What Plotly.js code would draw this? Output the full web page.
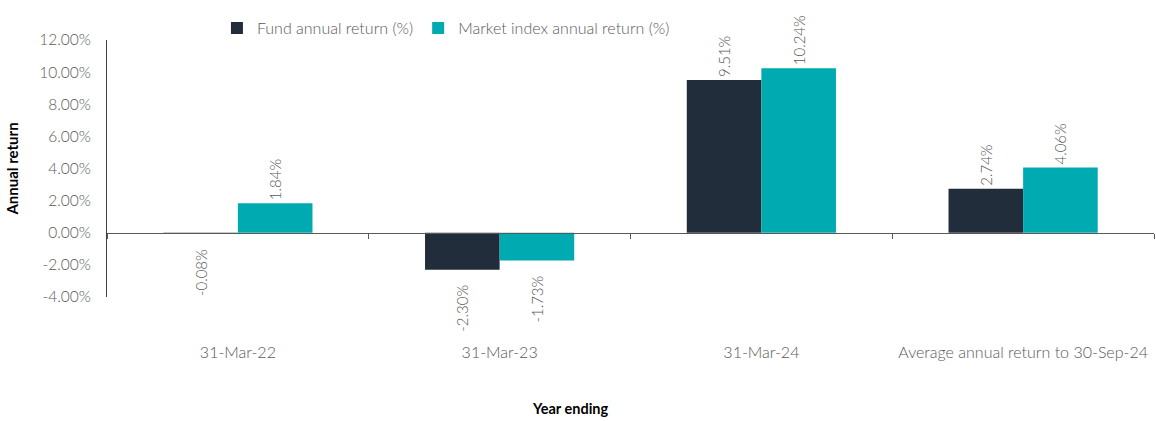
<!DOCTYPE html>
<html>
<head>
<meta charset="utf-8">
<script src="https://cdn.plot.ly/plotly-3.0.1.min.js"></script>
<style>html,body{margin:0;padding:0;background:#fff;}#chart{width:1156px;height:421px;}</style>
</head>
<body>
<div id="chart"></div>
<script>
const categories = ["31-Mar-22", "31-Mar-23", "31-Mar-24", "Average annual return to 30-Sep-24"];
const fundName = "Fund annual return (%)";
const marketName = "Market index annual return (%)";
const fundReturns = [-0.08, -2.30, 9.51, 2.74];
const marketReturns = [1.84, -1.73, 10.24, 4.06];
const yTicks = [-4, -2, 0, 2, 4, 6, 8, 10, 12];
const yTickText = yTicks.map(v => v.toFixed(2) + "%");

const gray = "#595959";
const font = "Lato, 'Open Sans', sans-serif";

const common = {
  type: "bar",
  x: categories,
  texttemplate: "%{y:.2f}%&nbsp;&nbsp;&nbsp;",
  textposition: "outside",
  textangle: -90,
  cliponaxis: false,
  textfont: {family: font, size: 15, color: gray, weight: 300},
  hoverinfo: "skip"
};

const data = [
  Object.assign({}, common, {name: fundName, y: fundReturns,
    marker: {color: "#222d3b", line: {width: 0}}}),
  Object.assign({}, common, {name: marketName, y: marketReturns,
    marker: {color: "#00aab1", line: {width: 0}}}),
  {type: "scatter", x: [], y: [], xaxis: "x2", showlegend: false, hoverinfo: "skip"}
];

const boundaries = [];
for (let i = 0; i <= categories.length; i++) boundaries.push(i - 0.5);

const layout = {
  width: 1156, height: 421,
  margin: {l: 107, r: 2, t: 40, b: 124},
  paper_bgcolor: "#fff", plot_bgcolor: "#fff",
  font: {family: font, color: gray, size: 15, weight: 300},
  barmode: "group",
  bargap: 0.43,
  bargroupgap: 0,
  showlegend: true,
  legend: {orientation: "h", x: 0.105, xanchor: "left", y: 0.98, yanchor: "bottom",
    font: {family: font, size: 16, color: gray, weight: 300}, itemwidth: 30, traceorder: "normal"},
  xaxis: {
    type: "category", categoryorder: "array", categoryarray: categories,
    range: [-0.5, categories.length - 0.5],
    showline: false, ticks: "", showgrid: false, zeroline: false,
    tickfont: {family: font, size: 16, color: gray, weight: 300},
    ticklabelstandoff: 44
  },
  xaxis2: {
    overlaying: "x", anchor: "free", position: 0.25,
    type: "linear", range: [-0.5, categories.length - 0.5],
    tickmode: "array", tickvals: boundaries, showticklabels: false,
    ticks: "outside", ticklen: 5, tickcolor: gray, tickwidth: 1,
    showline: true, linecolor: gray, linewidth: 1, showgrid: false, zeroline: false
  },
  yaxis: {
    range: [-4, 12], tickmode: "array", tickvals: yTicks, ticktext: yTickText,
    showline: true, linecolor: "#404040", linewidth: 1,
    ticks: "", showgrid: false, zeroline: false,
    tickfont: {family: font, size: 15.5, color: gray, weight: 300},
    ticklabelstandoff: 12,
    title: {text: "Annual return", font: {family: font, size: 15, color: "#000", weight: "bold"}, standoff: 16}
  },
  annotations: [{
    text: "<b>Year ending</b>", xref: "paper", yref: "paper",
    x: 0.442, y: 0, yshift: -122, showarrow: false,
    font: {family: font, size: 14.5, color: "#000"}
  }]
};

Plotly.newPlot("chart", data, layout, {staticPlot: true, displayModeBar: false});
</script>
</body>
</html>
